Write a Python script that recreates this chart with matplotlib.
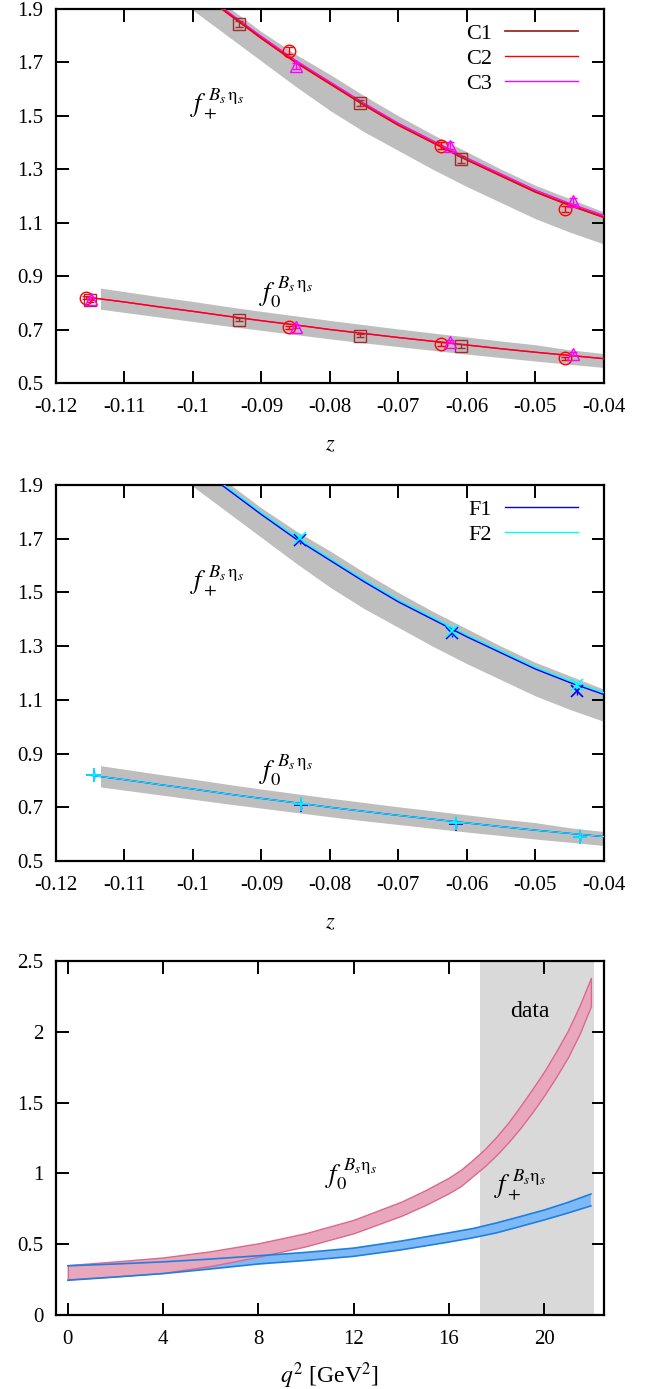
import matplotlib
matplotlib.use("Agg")
import matplotlib.pyplot as plt
import numpy as np

plt.rcParams["font.family"] = ["Liberation Serif", "DejaVu Serif"]
plt.rcParams["mathtext.fontset"] = "stix"

# ---- fit curves and error bands in z (top two panels) ----
z_line = [-0.1155, -0.110, -0.105, -0.100, -0.095, -0.090, -0.085, -0.080,
          -0.075, -0.070, -0.065, -0.060, -0.055, -0.050, -0.045, -0.040]
fp_line = [2.33, 2.20, 2.085, 1.98, 1.885, 1.79, 1.70, 1.62,
           1.54, 1.465, 1.40, 1.335, 1.275, 1.215, 1.165, 1.12]
fp_line_c3 = [2.335, 2.205, 2.09, 1.986, 1.891, 1.797, 1.707, 1.627,
              1.547, 1.472, 1.407, 1.342, 1.282, 1.222, 1.172, 1.127]
f0_line = [0.821, 0.803, 0.785, 0.768, 0.750, 0.733, 0.717, 0.700,
           0.685, 0.670, 0.656, 0.642, 0.628, 0.615, 0.603, 0.591]

z_band = [-0.1135, -0.110, -0.105, -0.100, -0.095, -0.090, -0.085, -0.080,
          -0.075, -0.070, -0.065, -0.060, -0.055, -0.050, -0.045, -0.040]
fp_hi = [2.32, 2.23, 2.11, 2.005, 1.91, 1.815, 1.73, 1.655,
         1.575, 1.50, 1.43, 1.365, 1.30, 1.24, 1.19, 1.14]
fp_lo = [2.20, 2.11, 1.995, 1.895, 1.80, 1.705, 1.61, 1.52,
         1.44, 1.37, 1.30, 1.235, 1.175, 1.115, 1.065, 1.02]
f0_hi = [0.855, 0.842, 0.823, 0.805, 0.786, 0.768, 0.751, 0.734,
         0.718, 0.702, 0.687, 0.672, 0.657, 0.643, 0.624, 0.610]
f0_lo = [0.776, 0.764, 0.747, 0.730, 0.713, 0.697, 0.681, 0.665,
         0.650, 0.636, 0.622, 0.608, 0.595, 0.582, 0.570, 0.558]

# ---- lattice points, panel 1 (C1, C2, C3) ----
c1_fp_z = [-0.0932, -0.0756, -0.0609]
c1_fp = [1.843, 1.548, 1.337]
c1_f0_z = [-0.1150, -0.0932, -0.0756, -0.0609]
c1_f0 = [0.810, 0.737, 0.677, 0.638]

c2_fp_z = [-0.0859, -0.0637, -0.0457]
c2_fp = [1.744, 1.388, 1.150]
c2_f0_z = [-0.1156, -0.0859, -0.0637, -0.0457]
c2_f0 = [0.819, 0.708, 0.646, 0.592]

c3_fp_z = [-0.0849, -0.0625, -0.0445]
c3_fp = [1.686, 1.388, 1.180]
c3_f0_z = [-0.1149, -0.0849, -0.0625, -0.0445]
c3_f0 = [0.815, 0.711, 0.655, 0.610]

# ---- lattice points, panel 2 (F1, F2) ----
f1_fp_z = [-0.0844, -0.0621, -0.0439]
f1_fp = [1.695, 1.350, 1.132]
f2_fp = [1.702, 1.356, 1.155]
f_f0_z = [-0.1145, -0.0842, -0.0616, -0.0434]
f1_f0 = [0.819, 0.710, 0.638, 0.588]
f2_f0 = [0.821, 0.712, 0.641, 0.590]

# ---- bands in q^2 (bottom panel) ----
q2 = [0, 2, 4, 6, 8, 10, 12, 14, 15, 16, 16.5, 17, 17.5, 18, 18.5, 19,
      19.5, 20, 20.5, 21, 21.5, 21.96]
f0q_hi = [0.352, 0.378, 0.406, 0.450, 0.506, 0.578, 0.672, 0.800, 0.880,
          0.970, 1.025, 1.095, 1.170, 1.260, 1.360, 1.475, 1.595, 1.720,
          1.860, 2.010, 2.190, 2.380]
f0q_lo = [0.252, 0.272, 0.297, 0.346, 0.411, 0.485, 0.577, 0.700, 0.775,
          0.860, 0.910, 0.980, 1.050, 1.130, 1.220, 1.320, 1.430, 1.550,
          1.680, 1.820, 1.990, 2.180]
q2b = [0, 2, 4, 6, 8, 10, 12, 14, 16, 17, 18, 19, 20, 21, 21.96]
fpq_hi = [0.347, 0.360, 0.375, 0.395, 0.418, 0.442, 0.472, 0.522, 0.580,
          0.610, 0.650, 0.695, 0.741, 0.795, 0.854]
fpq_lo = [0.245, 0.268, 0.292, 0.325, 0.360, 0.385, 0.414, 0.460, 0.515,
          0.545, 0.580, 0.625, 0.671, 0.720, 0.770]
data_region = (17.3, 22.1)

FS = 15
LFS = 19
lbl_fp = r"$f_+^{\ B_s\,\mathrm{η}_s}$"
lbl_f0 = r"$f_0^{\ B_s\,\mathrm{η}_s}$"


def style_axes(ax):
    for s in ax.spines.values():
        s.set_linewidth(1.6)
    ax.tick_params(direction="in", length=9, width=1.4, top=True, right=True,
                   labelsize=FS)
    ax.tick_params(axis="x", pad=11)
    ax.tick_params(axis="y", pad=9)


def z_panel(ax):
    ax.fill_between(z_band, fp_lo, fp_hi, color="#bebebe", lw=0, zorder=1)
    ax.fill_between(z_band, f0_lo, f0_hi, color="#bebebe", lw=0, zorder=1)
    ax.set_xlim(-0.12, -0.04)
    ax.set_ylim(0.5, 1.9)
    ax.set_xticks(np.arange(-0.12, -0.039, 0.01))
    ax.set_xticklabels(["-0.12", "-0.11", "-0.1", "-0.09", "-0.08", "-0.07",
                        "-0.06", "-0.05", "-0.04"])
    ax.set_yticks([0.5, 0.7, 0.9, 1.1, 1.3, 1.5, 1.7, 1.9])
    ax.set_xlabel(r"$z$", fontsize=FS + 1, labelpad=14)
    ax.text(-0.1004, 1.512, lbl_fp, fontsize=LFS, va="baseline")
    ax.text(-0.0904, 0.808, lbl_f0, fontsize=LFS, va="baseline")
    style_axes(ax)


def add_legend(ax):
    ax.legend(loc="upper right", bbox_to_anchor=(0.97, 0.985), frameon=False,
              markerfirst=False, fontsize=FS + 1, handlelength=3.3,
              labelspacing=0.2, borderaxespad=0.0, handletextpad=0.6)


fig = plt.figure(figsize=(6.6, 13.89), dpi=100)
ax1 = fig.add_axes([0.0848, 0.7243, 0.830, 0.2693])
ax2 = fig.add_axes([0.0848, 0.3801, 0.830, 0.2707])
ax3 = fig.add_axes([0.0848, 0.0533, 0.830, 0.2549])

# ---------------- panel 1 ----------------
z_panel(ax1)
ax1.plot(z_line, fp_line, color="#a52a2a", lw=1.3, label="C1", zorder=3)
ax1.plot(z_line, fp_line, color="red", lw=1.0, label="C2", zorder=3)
ax1.plot(z_line, fp_line_c3, color="magenta", lw=1.0, label="C3", zorder=2.9)
ax1.plot(z_line, f0_line, color="magenta", lw=1.0, zorder=2.9)
ax1.plot(z_line, f0_line, color="red", lw=1.0, zorder=3)

pts = [
    (c1_fp_z, c1_fp, c1_f0_z, c1_f0, "#a52a2a", "s", 9),
    (c2_fp_z, c2_fp, c2_f0_z, c2_f0, "red", "o", 9),
    (c3_fp_z, c3_fp, c3_f0_z, c3_f0, "magenta", "^", 8),
]
for zp, vp, z0, v0, col, mk, ms in pts:
    ax1.errorbar(zp, vp, yerr=0.012, fmt=mk, mfc="none", mec=col, ecolor=col,
                 ms=ms, mew=1.0, elinewidth=1.0, capsize=3, zorder=4)
    ax1.errorbar(z0, v0, yerr=0.006, fmt=mk, mfc="none", mec=col, ecolor=col,
                 ms=ms, mew=1.0, elinewidth=1.0, capsize=3, zorder=4)
add_legend(ax1)

# ---------------- panel 2 ----------------
z_panel(ax2)
ax2.plot(z_line, fp_line, color="blue", lw=1.0, label="F1", zorder=3)
ax2.plot(z_line, f0_line, color="blue", lw=1.0, zorder=3)
ax2.plot(z_line, fp_line_c3, color="cyan", lw=1.0, label="F2", zorder=2.9)
ax2.plot(z_line, f0_line, color="cyan", lw=0.8, zorder=3)
for vp, v0, col in [(f1_fp, f1_f0, "blue"), (f2_fp, f2_f0, "cyan")]:
    ax2.errorbar(f1_fp_z, vp, yerr=0.015, fmt="x", color=col, ms=8, mew=1.2,
                 elinewidth=1.0, capsize=0, zorder=4)
    ax2.errorbar(f_f0_z, v0, yerr=0.015, fmt="+", color=col, ms=10, mew=1.2,
                 elinewidth=1.0, capsize=0, zorder=4)
add_legend(ax2)

# ---------------- panel 3 ----------------
ax3.axvspan(*data_region, color="#d9d9d9", lw=0, zorder=0)
ax3.fill_between(q2b, fpq_lo, fpq_hi, facecolor="#7db9f6", edgecolor="none",
                 zorder=2)
ax3.fill_between(q2, f0q_lo, f0q_hi, facecolor="#e8a7bc", edgecolor="#dc6890",
                 lw=1.0, zorder=3)
ax3.plot(q2b, fpq_hi, color="#1f7fe0", lw=1.2, zorder=4)
ax3.plot(q2b, fpq_lo, color="#1f7fe0", lw=1.2, zorder=4)
ax3.set_xlim(-0.5, 22.5)
ax3.set_ylim(0, 2.5)
ax3.set_xticks([0, 4, 8, 12, 16, 20])
ax3.set_yticks([0, 0.5, 1, 1.5, 2, 2.5])
ax3.set_yticklabels(["0", "0.5", "1", "1.5", "2", "2.5"])
ax3.set_xlabel(r"$q^2$ [GeV$^2$]", fontsize=FS + 2, labelpad=8)
ax3.text(19.4, 2.14, "data", fontsize=FS + 2, ha="center", va="center")
ax3.text(10.8, 0.93, r"$f_0^{\ B_s\mathrm{η}_s}$", fontsize=LFS, va="baseline")
ax3.text(17.9, 0.86, r"$f_+^{\ B_s\mathrm{η}_s}$", fontsize=LFS, va="baseline")
style_axes(ax3)

fig.savefig("out.png", dpi=100)
